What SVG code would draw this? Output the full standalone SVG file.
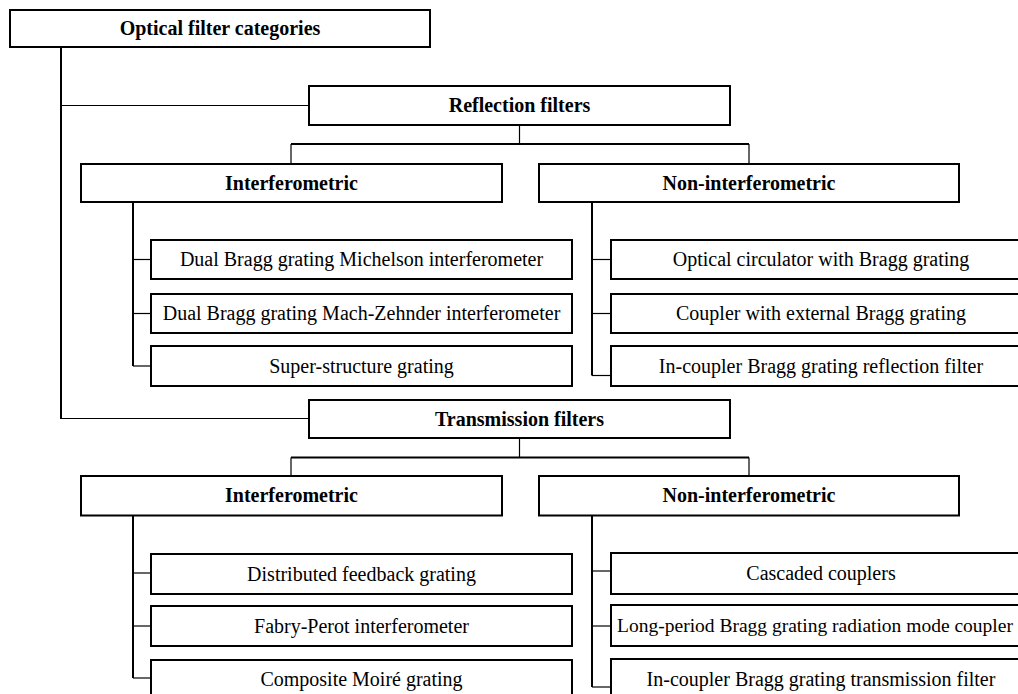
<svg xmlns="http://www.w3.org/2000/svg" width="1018" height="694" viewBox="0 0 1018 694">
<style>
.box{fill:#fff;stroke:#000;stroke-width:2}
.t{font-family:"Liberation Serif","Times New Roman",serif;font-size:20px;fill:#000;text-anchor:middle}
.b{font-weight:bold}
.thick{stroke:#000;stroke-width:2;fill:none}
.thin{stroke:#000;stroke-width:1.2;fill:none}
</style>
<rect width="1018" height="694" fill="#fff"/>
<g id="connectors">
<line class="thick" x1="61" y1="47" x2="61" y2="419"/>
<line class="thin" x1="61" y1="105.5" x2="309" y2="105.5"/>
<line class="thin" x1="61" y1="418.5" x2="309" y2="418.5"/>
<line class="thin" x1="519.5" y1="125" x2="519.5" y2="144"/>
<line class="thick" x1="291" y1="144" x2="749" y2="144"/>
<line class="thin" x1="291" y1="144" x2="291" y2="164"/>
<line class="thin" x1="749" y1="144" x2="749" y2="164"/>
<line class="thick" x1="133" y1="202" x2="133" y2="366"/>
<line class="thin" x1="133" y1="259.5" x2="151" y2="259.5"/>
<line class="thin" x1="133" y1="313.5" x2="151" y2="313.5"/>
<line class="thin" x1="133" y1="366" x2="151" y2="366"/>
<line class="thick" x1="592" y1="202" x2="592" y2="375.5"/>
<line class="thin" x1="592" y1="259.5" x2="611" y2="259.5"/>
<line class="thin" x1="592" y1="313.5" x2="611" y2="313.5"/>
<line class="thin" x1="592" y1="375.5" x2="611" y2="375.5"/>
<line class="thin" x1="519.5" y1="438" x2="519.5" y2="457.5"/>
<line class="thick" x1="291" y1="457.5" x2="749" y2="457.5"/>
<line class="thin" x1="291" y1="457.5" x2="291" y2="476"/>
<line class="thin" x1="749" y1="457.5" x2="749" y2="476"/>
<line class="thick" x1="133" y1="515.5" x2="133" y2="678"/>
<line class="thin" x1="133" y1="573" x2="151" y2="573"/>
<line class="thin" x1="133" y1="626" x2="151" y2="626"/>
<line class="thin" x1="133" y1="678" x2="151" y2="678"/>
<line class="thick" x1="592" y1="515.5" x2="592" y2="687"/>
<line class="thin" x1="592" y1="571" x2="611" y2="571"/>
<line class="thin" x1="592" y1="626" x2="611" y2="626"/>
<line class="thin" x1="592" y1="687" x2="611" y2="687"/>
</g>
<g id="root"><rect class="box" x="10" y="10" width="420" height="37"/><text class="t b" x="220" y="34.5">Optical filter categories</text></g>
<g id="reflection"><rect class="box" x="309" y="86" width="421" height="39"/><text class="t b" x="519.5" y="112">Reflection filters</text></g>
<g id="r-interf"><rect class="box" x="81" y="164" width="421" height="38"/><text class="t b" x="291.5" y="189.5">Interferometric</text></g>
<g id="r-noninterf"><rect class="box" x="539" y="164" width="420" height="38"/><text class="t b" x="749" y="189.5">Non-interferometric</text></g>
<g id="r-i1"><rect class="box" x="151" y="240" width="421" height="39"/><text class="t" x="361.5" y="266">Dual Bragg grating Michelson interferometer</text></g>
<g id="r-i2"><rect class="box" x="151" y="294" width="421" height="39"/><text class="t" x="361.5" y="320">Dual Bragg grating Mach-Zehnder interferometer</text></g>
<g id="r-i3"><rect class="box" x="151" y="346" width="421" height="40"/><text class="t" x="361.5" y="372.5">Super-structure grating</text></g>
<g id="r-n1"><rect class="box" x="611" y="240" width="421" height="39"/><text class="t" x="821" y="266">Optical circulator with Bragg grating</text></g>
<g id="r-n2"><rect class="box" x="611" y="294" width="421" height="39"/><text class="t" x="821" y="320">Coupler with external Bragg grating</text></g>
<g id="r-n3"><rect class="box" x="611" y="346" width="421" height="40"/><text class="t" x="821" y="372.5">In-coupler Bragg grating reflection filter</text></g>
<g id="transmission"><rect class="box" x="309" y="400" width="421" height="38"/><text class="t b" x="519.5" y="425.5">Transmission filters</text></g>
<g id="t-interf"><rect class="box" x="81" y="476" width="421" height="39.5"/><text class="t b" x="291.5" y="502">Interferometric</text></g>
<g id="t-noninterf"><rect class="box" x="539" y="476" width="420" height="39.5"/><text class="t b" x="749" y="502">Non-interferometric</text></g>
<g id="t-i1"><rect class="box" x="151" y="554" width="421" height="40"/><text class="t" x="361.5" y="580.5">Distributed feedback grating</text></g>
<g id="t-i2"><rect class="box" x="151" y="606" width="421" height="40"/><text class="t" x="361.5" y="632.5">Fabry-Perot interferometer</text></g>
<g id="t-i3"><rect class="box" x="151" y="660" width="421" height="40"/><text class="t" x="361.5" y="686">Composite Moiré grating</text></g>
<g id="t-n1"><rect class="box" x="611" y="553" width="421" height="41"/><text class="t" x="821" y="580">Cascaded couplers</text></g>
<g id="t-n2"><rect class="box" x="611" y="605" width="421" height="41"/><text class="t" x="815" y="632" style="font-size:19.5px">Long-period Bragg grating radiation mode coupler</text></g>
<g id="t-n3"><rect class="box" x="611" y="659" width="421" height="41"/><text class="t" x="821" y="686">In-coupler Bragg grating transmission filter</text></g>
</svg>
